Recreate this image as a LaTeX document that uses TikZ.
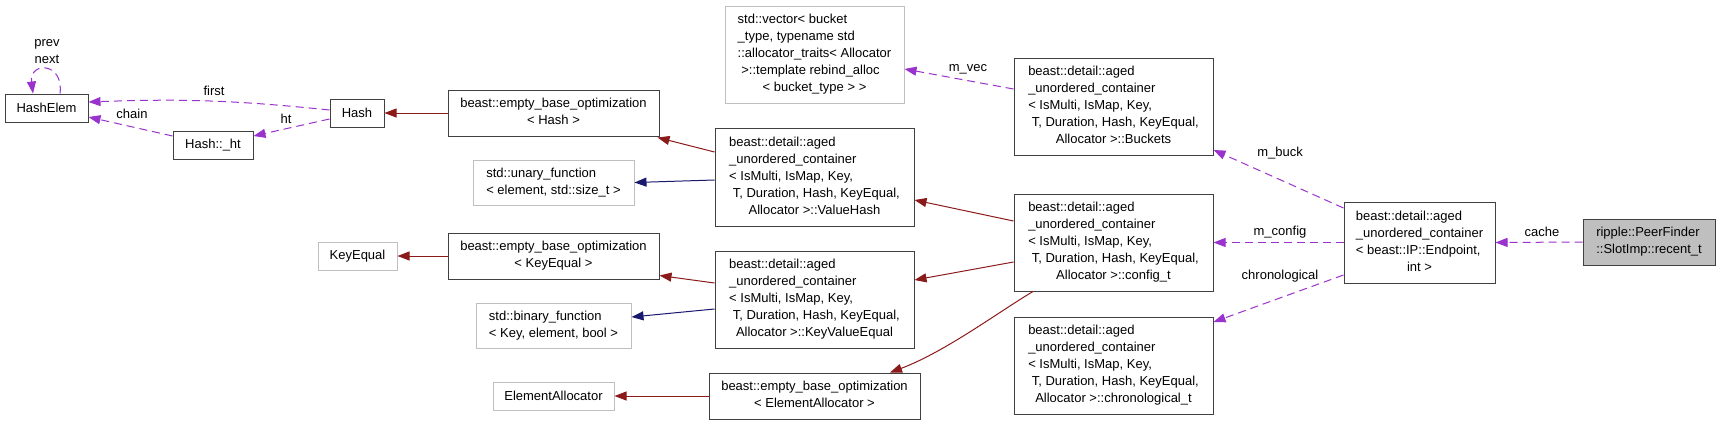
\documentclass[tikz,border=0pt]{standalone}
\usepackage{fontspec}
\setmainfont{Liberation Sans}
\usetikzlibrary{arrows.meta}
\definecolor{edgered}{HTML}{8B1A1A}
\definecolor{edgeblue}{HTML}{191970}
\definecolor{edgepurple}{HTML}{9A32CD}
\definecolor{boxdark}{HTML}{404040}
\definecolor{boxgray}{HTML}{BFBFBF}
\newcommand\mlbox[2]{\begin{tabular}{@{}l@{}}#1\\\multicolumn{1}{@{}c@{}}{#2}\end{tabular}}
\begin{document}
\begin{tikzpicture}[x=1pt,y=-1pt,
  font=\fontsize{13}{17}\selectfont,
  cls/.style={draw=boxdark, line width=1pt, inner sep=0pt, fill=white},
  ext/.style={draw=boxgray, line width=1pt, inner sep=0pt, fill=white},
  cur/.style={draw=boxdark, line width=1pt, inner sep=0pt, fill=boxgray},
  sz/.style 2 args={minimum width=#1pt, minimum height=#2pt},
  inh/.style={draw=edgered, line width=1pt, -{Triangle[length=12pt,width=9pt]}},
  pub/.style={draw=edgeblue, line width=1pt, -{Triangle[length=12pt,width=9pt]}},
  dep/.style={draw=edgepurple, line width=1pt, dash pattern=on 8pt off 5pt, -{Triangle[length=12pt,width=9pt,fill=edgepurple]}},
  lbl/.style={inner sep=0pt}
]
\fill[white] (0,0) rectangle (1720,424);
\useasboundingbox (0,0) rectangle (1720,424);

% nodes
\node[cls, sz={83}{28}] (he) at (46.5,108) {HashElem};
\node[cls, sz={54}{28}] (hash) at (357,113) {Hash};
\node[cls, sz={80}{28}] (ht) at (213,145) {Hash::\_ht};
\node[cls, sz={211}{46}] (ebh) at (553.5,113) {\mlbox{beast::empty\_base\_optimization}{< Hash >}};
\node[ext, sz={179}{97}] (vec) at (814.5,54.5) {\mlbox{std::vector< bucket\\\_type, typename std\\::allocator\_traits< Allocator\\\ >::template rebind\_alloc}{< bucket\_type > >}};
\node[ext, sz={161}{45}] (uf) at (553.5,182.5) {\mlbox{std::unary\_function}{< element, std::size\_t >}};
\node[cls, sz={199}{98}] (vh) at (814.5,177) {\mlbox{beast::detail::aged\\\_unordered\_container\\< IsMulti, IsMap, Key,\\\ T, Duration, Hash, KeyEqual,}{Allocator >::ValueHash}};
\node[ext, sz={79}{28}] (ke) at (357.5,256) {KeyEqual};
\node[cls, sz={211}{46}] (ebk) at (553.5,256) {\mlbox{beast::empty\_base\_optimization}{< KeyEqual >}};
\node[ext, sz={155}{45}] (bf) at (553.5,325.5) {\mlbox{std::binary\_function}{< Key, element, bool >}};
\node[cls, sz={199}{97}] (kve) at (814.5,299.5) {\mlbox{beast::detail::aged\\\_unordered\_container\\< IsMulti, IsMap, Key,\\\ T, Duration, Hash, KeyEqual,}{Allocator >::KeyValueEqual}};
\node[ext, sz={121}{28}] (ea) at (553.5,396) {ElementAllocator};
\node[cls, sz={211}{46}] (ebe) at (814.5,396) {\mlbox{beast::empty\_base\_optimization}{< ElementAllocator >}};
\node[cls, sz={199}{97}] (bk) at (1113.5,106.5) {\mlbox{beast::detail::aged\\\_unordered\_container\\< IsMulti, IsMap, Key,\\\ T, Duration, Hash, KeyEqual,}{Allocator >::Buckets}};
\node[cls, sz={199}{97}] (cfg) at (1113.5,242.5) {\mlbox{beast::detail::aged\\\_unordered\_container\\< IsMulti, IsMap, Key,\\\ T, Duration, Hash, KeyEqual,}{Allocator >::config\_t}};
\node[cls, sz={199}{97}] (chr) at (1113.5,365.5) {\mlbox{beast::detail::aged\\\_unordered\_container\\< IsMulti, IsMap, Key,\\\ T, Duration, Hash, KeyEqual,}{Allocator >::chronological\_t}};
\node[cls, sz={151}{81}] (ep) at (1419.5,242.5) {\mlbox{beast::detail::aged\\\_unordered\_container\\< beast::IP::Endpoint,}{int >}};
\node[cur, sz={132}{46}] (rt) at (1649,242) {\mlbox{ripple::PeerFinder}{::SlotImp::recent\_t}};

% edges
\draw[dep] ([xshift=13.5pt]he.north) .. controls +(4,-32) and +(-4,-32) .. ([xshift=-13.5pt]he.north);
\node[lbl, align=center] (lpn) at (47,51.5) {prev\\next};
\draw[dep] ([yshift=3pt]hash.west) to[bend right=4] ([yshift=6pt]he.east);
\node[lbl] (lfirst) at (214,91) {first};
\draw[dep] ([yshift=9pt]ht.west) -- ([yshift=-9pt]he.east);
\node[lbl] (lchain) at (132,114) {chain};
\draw[dep] ([yshift=-6pt]hash.west) -- ([yshift=9pt]ht.east);
\node[lbl] (lht) at (286,119) {ht};

\draw[inh] (ebh.west) -- (hash.east);
\draw[inh] ([yshift=25pt]vh.west) -- ([xshift=-2pt,yshift=-1pt]ebh.south east);
\draw[pub] ([yshift=-3pt]vh.west) -- (uf.east);
\draw[inh] (ebk.west) -- (ke.east);
\draw[inh] ([yshift=16.5pt]kve.west) -- ([yshift=4pt]ebk.south east);
\draw[pub] ([yshift=-9.5pt]kve.west) -- ([yshift=8.5pt]bf.east);
\draw[inh] (ebe.west) -- (ea.east);
\draw[inh] ([yshift=21.5pt]cfg.west) -- ([yshift=-23pt]vh.east);
\draw[inh] ([yshift=-19.5pt]cfg.west) -- ([yshift=19.5pt]kve.east);
\draw[inh] ([xshift=-80.5pt]cfg.south) .. controls (1000,311) and (945,352) .. ([xshift=75.5pt]ebe.north);

\draw[dep] ([yshift=17.5pt]bk.west) -- ([yshift=-14.5pt]vec.east);
\node[lbl] (lvec) at (968,69) {m\_vec};
\draw[dep] ([yshift=34.5pt]ep.west) -- ([yshift=-43.5pt]bk.east);
\node[lbl] (lbuck) at (1280,153) {m\_buck};
\draw[dep] (ep.west) -- (cfg.east);
\node[lbl] (lcfg) at (1280,232) {m\_config};
\draw[dep] ([yshift=-32.5pt]ep.west) -- ([yshift=43.5pt]chr.east);
\node[lbl] (lchr) at (1280,276) {chronological};
\draw[dep] (rt.west) -- (ep.east);
\node[lbl] (lcache) at (1542,232) {cache};
\end{tikzpicture}
\end{document}
